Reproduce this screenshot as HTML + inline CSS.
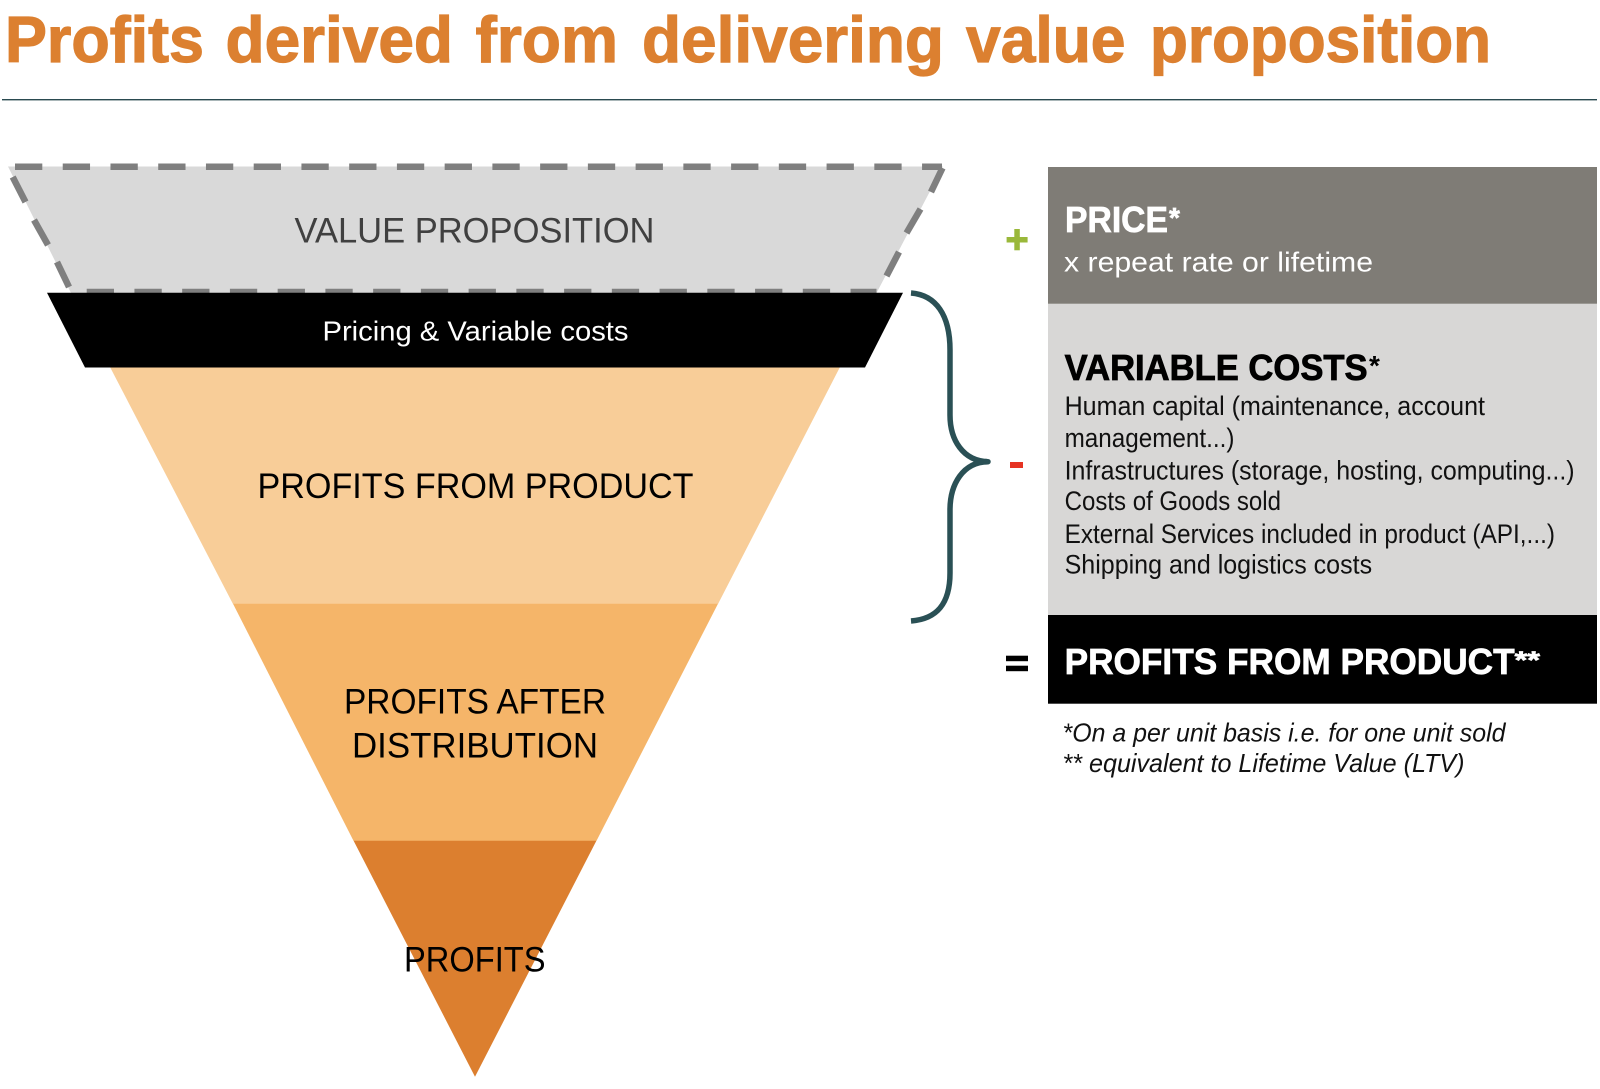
<!DOCTYPE html>
<html>
<head>
<meta charset="utf-8">
<style>
html,body{margin:0;padding:0;background:#fff;width:1600px;height:1089px;overflow:hidden}
svg{display:block}
text{font-family:"Liberation Sans",sans-serif;white-space:pre}
.b{font-weight:700}
.t{font-weight:700;font-size:65px;fill:#dc8030;stroke:#dc8030;stroke-width:1.2px}
.w{stroke:#fff;stroke-width:.7px}
.k{stroke:#000;stroke-width:.8px}
</style>
</head>
<body>
<svg width="1600" height="1089" viewBox="0 0 1600 1089" xmlns="http://www.w3.org/2000/svg">
<rect width="1600" height="1089" fill="#fff"/>
<text class="t" x="5" y="62" textLength="199" lengthAdjust="spacingAndGlyphs">Profits</text>
<text class="t" x="225.5" y="62" textLength="227.5" lengthAdjust="spacingAndGlyphs">derived</text>
<text class="t" x="475.5" y="62" textLength="142.5" lengthAdjust="spacingAndGlyphs">from</text>
<text class="t" x="642" y="62" textLength="302" lengthAdjust="spacingAndGlyphs">delivering</text>
<text class="t" x="966" y="62" textLength="159.5" lengthAdjust="spacingAndGlyphs">value</text>
<text class="t" x="1150" y="62" textLength="341" lengthAdjust="spacingAndGlyphs">proposition</text>
<rect x="2" y="99" width="1595" height="1.4" fill="#2a4a50"/>

<!-- funnel -->
<polygon points="8,166.5 943,166.5 876.5,293 71,293" fill="#d9d9d9"/>
<g stroke="#7f7f7f" stroke-width="6.5" fill="none">
<line x1="15" y1="166.7" x2="942" y2="166.7" stroke-dasharray="27.3 20.44"/>
<line x1="86.7" y1="292" x2="876.5" y2="292" stroke-dasharray="27.3 20.44"/>
<line x1="12.7" y1="177" x2="25.5" y2="202"/>
<line x1="34" y1="220" x2="48" y2="245"/>
<line x1="57" y1="262" x2="69" y2="287"/>
<line x1="942.5" y1="168" x2="931" y2="192"/>
<line x1="920.5" y1="209" x2="906.5" y2="233"/>
<line x1="899" y1="252" x2="886.5" y2="276"/>
</g>
<polygon points="110,367 840,367 718,604 233,604" fill="#f8cd98"/>
<polygon points="233,603.7 718,603.7 596.4,841 353.6,841" fill="#f5b569"/>
<polygon points="353.6,840.7 596.4,840.7 475,1076.7" fill="#dc7f2f"/>
<polygon points="47,292.7 903,292.7 865,367.5 85,367.5" fill="#000"/>

<text x="294.5" y="242.7" font-size="35" fill="#404040" textLength="360" lengthAdjust="spacingAndGlyphs">VALUE PROPOSITION</text>
<text x="322.5" y="340.7" font-size="28" fill="#fff" textLength="306" lengthAdjust="spacingAndGlyphs">Pricing &amp; Variable costs</text>
<text x="257.5" y="498" font-size="35" fill="#000" textLength="436" lengthAdjust="spacingAndGlyphs">PROFITS FROM PRODUCT</text>
<text x="344" y="713.5" font-size="35" fill="#000" textLength="262" lengthAdjust="spacingAndGlyphs">PROFITS AFTER</text>
<text x="352" y="757.5" font-size="35" fill="#000" textLength="246" lengthAdjust="spacingAndGlyphs">DISTRIBUTION</text>
<text x="404" y="971.7" font-size="35" fill="#000" textLength="141.5" lengthAdjust="spacingAndGlyphs">PROFITS</text>

<!-- brace -->
<path d="M911 293 C936 295 950 315 950 350 L950 415 C950 440 963 461 988 461.7 C963 462 950 484 950 510 L950 573 C950 605 936 619 911 621" fill="none" stroke="#2a5055" stroke-width="5.5" stroke-linejoin="round"/>
<circle cx="986" cy="461.7" r="2.9" fill="#2a5055"/>

<!-- operators -->
<rect x="1006.6" y="237" width="21" height="5.5" fill="#9ab83a"/>
<rect x="1014.3" y="229" width="5.5" height="21.3" fill="#9ab83a"/>
<rect x="1010" y="462" width="13" height="6" fill="#e63323"/>
<rect x="1006" y="655.7" width="22" height="5.5" fill="#000"/>
<rect x="1006" y="665.7" width="22" height="5.5" fill="#000"/>

<!-- right boxes -->
<rect x="1048" y="167" width="549" height="137" fill="#7f7c76"/>
<rect x="1048" y="303.7" width="549" height="311.5" fill="#d8d7d6"/>
<rect x="1048" y="615" width="549" height="88.7" fill="#000"/>

<text class="b w" x="1065" y="232" font-size="36" fill="#fff" textLength="103" lengthAdjust="spacingAndGlyphs">PRICE</text>
<text class="b w" x="1169" y="227" font-size="28" fill="#fff">*</text>
<text x="1064" y="271.7" font-size="28" fill="#fff" textLength="309" lengthAdjust="spacingAndGlyphs">x repeat rate or lifetime</text>

<text class="b k" x="1064.6" y="380" font-size="36" fill="#000" textLength="303" lengthAdjust="spacingAndGlyphs">VARIABLE COSTS</text>
<text class="b" x="1369" y="375" font-size="28" fill="#000">*</text>
<g font-size="26.5" fill="#111">
<text x="1064.6" y="415" textLength="420.4" lengthAdjust="spacingAndGlyphs">Human capital (maintenance, account</text>
<text x="1064.6" y="447.2" textLength="169.8" lengthAdjust="spacingAndGlyphs">management...)</text>
<text x="1064.6" y="479.5" textLength="510" lengthAdjust="spacingAndGlyphs">Infrastructures (storage, hosting, computing...)</text>
<text x="1064.6" y="510" textLength="216.4" lengthAdjust="spacingAndGlyphs">Costs of Goods sold</text>
<text x="1064.6" y="543" textLength="490.4" lengthAdjust="spacingAndGlyphs">External Services included in product (API,...)</text>
<text x="1064.6" y="573.3" textLength="307.5" lengthAdjust="spacingAndGlyphs">Shipping and logistics costs</text>
</g>

<text class="b w" x="1064.6" y="674" font-size="36" fill="#fff" textLength="450" lengthAdjust="spacingAndGlyphs">PROFITS FROM PRODUCT</text>
<text class="b w" x="1514.6" y="668" font-size="24" fill="#fff" textLength="25.4" lengthAdjust="spacingAndGlyphs">**</text>

<text x="1062.5" y="741.7" font-size="26" font-style="italic" fill="#111" textLength="443" lengthAdjust="spacingAndGlyphs">*On a per unit basis i.e. for one unit sold</text>
<text x="1062.5" y="772.2" font-size="26" font-style="italic" fill="#111" textLength="402" lengthAdjust="spacingAndGlyphs">** equivalent to Lifetime Value (LTV)</text>
</svg>
</body>
</html>
